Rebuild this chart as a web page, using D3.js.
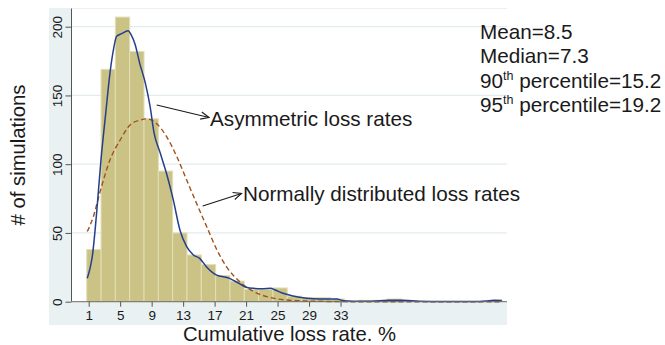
<!DOCTYPE html>
<html>
<head>
<meta charset="utf-8">
<script src="https://cdn.jsdelivr.net/npm/d3@7"></script>
<style>
  html, body { margin: 0; padding: 0; background: #fff; }
  svg { display: block; font-family: "Liberation Sans", Arial, Helvetica, sans-serif; }
</style>
</head>
<body>
<svg id="chart" width="665" height="345"></svg>
<script>
// Histogram of simulated cumulative loss rates (counts per bin)
const binStart = 0.75;
const binWidth = 1.82;
const binCounts = [38, 169, 207, 182, 133, 95, 50, 34, 27, 19, 15, 9, 9, 10, 4, 3, 3, 2, 0, 1, 1, 2, 0, 0, 0, 0, 0, 0, 1];

// Kernel density of the asymmetric loss rates, scaled to counts
const kernelX = [0.82, 1.2, 1.46, 2.0, 2.56, 3.2, 3.7, 4.2, 4.55, 5.2, 6.0, 6.4, 6.9, 7.5, 8.2, 8.8, 9.3, 10.1, 10.9, 11.75, 12.6, 13.45, 14.3, 15.1, 15.95, 17.2, 18.9, 20.2, 21.0, 21.9, 23.2, 24.1, 24.7, 25.5, 26.8, 28.7, 30.4, 32.5, 33.4, 34.6, 37, 39, 41, 43, 46, 50, 51.5, 52.5, 53.5];
const kernelY = [17, 25, 33, 64, 103, 139, 166, 185, 193, 195, 197, 194, 187, 173, 159, 142, 123, 108, 93, 74, 52, 40, 34, 31.5, 25.5, 19.5, 17, 13, 10.5, 9.7, 9.5, 9.7, 8.5, 6.5, 4.4, 2.5, 2, 2, 0.7, 0.4, 0.3, 1, 1, 0.3, 0.1, 0.1, 0.5, 1, 0.8];

// Normally distributed loss rates, scaled to counts
const normalX = [0.82, 1.6, 2.4, 3.7, 5.0, 6.25, 7.5, 8.35, 9.6, 10.9, 12.2, 13.45, 14.7, 16, 17.3, 18.5, 20.2, 21.2, 21.9, 24.1, 26.2, 28.7, 31, 35, 53.5];
const normalY = [51, 62, 79, 103, 117.6, 128.5, 132, 133, 129.7, 120, 105.5, 88.5, 71.6, 54.5, 37.6, 25.5, 14.5, 10, 7.5, 3, 1.2, 0.5, 0.2, 0, 0];

const xTicks = [1, 5, 9, 13, 17, 21, 25, 29, 33];
const yTicks = [0, 50, 100, 150, 200];

const xTitle = "Cumulative loss rate. %";
const yTitle = "# of simulations";
const labelAsym = "Asymmetric loss rates";
const labelNormal = "Normally distributed loss rates";

// Summary statistics: [leading text, superscript, trailing text]
const statPre = ["Mean=8.5", "Median=7.3", "90", "95"];
const statSup = ["", "", "th", "th"];
const statPost = ["", "", " percentile=15.2", " percentile=19.2"];

const svg = d3.select("#chart");
const font = '"Liberation Sans", Arial, Helvetica, sans-serif';

const plot = { left: 72, right: 507, top: 8.5, bottom: 301.7 };
const x = d3.scaleLinear().domain([-1.12, 54.15]).range([plot.left, plot.right]);
const y = d3.scaleLinear().domain([0, 200]).range([plot.bottom, 26.7]);

// Graph region and plot region backgrounds
svg.append("rect")
  .attr("x", 49).attr("y", 8).attr("width", plot.right - 49).attr("height", 325 - 8)
  .attr("fill", "#e9f1f3");
svg.append("rect")
  .attr("x", plot.left).attr("y", 9).attr("width", plot.right - plot.left).attr("height", plot.bottom - 9)
  .attr("fill", "#ffffff");

// Horizontal grid lines
svg.append("g")
  .selectAll("line")
  .data(yTicks.filter(d => d > 0))
  .join("line")
  .attr("x1", plot.left).attr("x2", plot.right)
  .attr("y1", d => y(d)).attr("y2", d => y(d))
  .attr("stroke", "#e3ecef").attr("stroke-width", 1.3);

// Histogram bars
svg.append("g")
  .selectAll("rect")
  .data(binCounts.map((c, i) => ({ x0: binStart + i * binWidth, x1: binStart + (i + 1) * binWidth, c })))
  .join("rect")
  .attr("x", d => x(d.x0))
  .attr("width", d => x(d.x1) - x(d.x0))
  .attr("y", d => y(d.c))
  .attr("height", d => y(0) - y(d.c))
  .attr("fill", "#cac385")
  .attr("stroke", "#e2dfb6")
  .attr("stroke-width", 1);

const line = d3.line().x(d => x(d[0])).y(d => y(d[1])).curve(d3.curveMonotoneX);

// Normal curve (dashed)
svg.append("path")
  .datum(normalX.map((v, i) => [v, normalY[i]]))
  .attr("d", line)
  .attr("fill", "none")
  .attr("stroke", "#a0521e")
  .attr("stroke-width", 1.4)
  .attr("stroke-dasharray", "5,3");

// Kernel density curve
svg.append("path")
  .datum(kernelX.map((v, i) => [v, kernelY[i]]))
  .attr("d", line)
  .attr("fill", "none")
  .attr("stroke", "#253f8c")
  .attr("stroke-width", 1.5);

// Axes
const xAxis = d3.axisBottom(x).tickValues(xTicks).tickSize(5).tickPadding(4);
const gx = svg.append("g").attr("transform", `translate(0,${plot.bottom})`).call(xAxis);
gx.select(".domain").attr("stroke", "#6b6b6b").attr("d", `M${plot.left},0H${plot.right}`);
gx.selectAll(".tick line").attr("stroke", "#555");
gx.selectAll(".tick text")
  .attr("font-family", font).attr("font-size", 13.5).attr("fill", "#1a1a1a");

const yAxis = d3.axisLeft(y).tickValues(yTicks).tickSize(6).tickFormat(d3.format("d"));
const gy = svg.append("g").attr("transform", `translate(${plot.left - 0.5},0)`).call(yAxis);
gy.select(".domain").attr("stroke", "#555").attr("d", `M0,${plot.top}V${plot.bottom}`);
gy.selectAll(".tick line").attr("stroke", "#555");
gy.selectAll(".tick text")
  .attr("font-family", font).attr("font-size", 13.5).attr("fill", "#1a1a1a")
  .attr("x", null).attr("dy", null)
  .attr("text-anchor", "middle")
  .attr("transform", "translate(-9.5,0) rotate(-90)");

// Axis titles
svg.append("text")
  .attr("x", (plot.left + plot.right) / 2).attr("y", 340.5)
  .attr("text-anchor", "middle")
  .attr("font-family", font).attr("font-size", 20.3).attr("fill", "#1a1a1a")
  .text(xTitle);
svg.append("text")
  .attr("transform", "translate(25,155) rotate(-90)")
  .attr("text-anchor", "middle")
  .attr("font-family", font).attr("font-size", 20.3).attr("fill", "#1a1a1a")
  .text(yTitle);

// Curve labels with open arrowheads
function arrow(x1, y1, x2, y2) {
  const g = svg.append("g").attr("stroke", "#1a1a1a").attr("stroke-width", 1.1).attr("fill", "none");
  g.append("line").attr("x1", x1).attr("y1", y1).attr("x2", x2).attr("y2", y2);
  const a = Math.atan2(y2 - y1, x2 - x1), len = 9, spread = 0.42;
  g.append("path").attr("d",
    `M${x2 - len * Math.cos(a - spread)},${y2 - len * Math.sin(a - spread)}L${x2},${y2}L${x2 - len * Math.cos(a + spread)},${y2 - len * Math.sin(a + spread)}`);
}
arrow(156.7, 105, 209, 117.5);
arrow(202.7, 206, 241.5, 193.5);

svg.append("text")
  .attr("x", 210).attr("y", 125.5)
  .attr("font-family", font).attr("font-size", 20.7).attr("fill", "#1a1a1a")
  .text(labelAsym);
svg.append("text")
  .attr("x", 243).attr("y", 200.5)
  .attr("font-family", font).attr("font-size", 20.7).attr("fill", "#1a1a1a")
  .text(labelNormal);

// Summary statistics block
const stats = svg.append("g")
  .attr("font-family", font).attr("font-size", 20.7).attr("fill", "#1a1a1a");
statPre.forEach((pre, i) => {
  const t = stats.append("text").attr("x", 480).attr("y", 39 + i * 24.3);
  t.append("tspan").text(pre);
  if (statSup[i]) {
    t.append("tspan").attr("font-size", 12.5).attr("dy", -8).text(statSup[i]);
    t.append("tspan").attr("dy", 8).text(statPost[i]);
  }
});
</script>
</body>
</html>
